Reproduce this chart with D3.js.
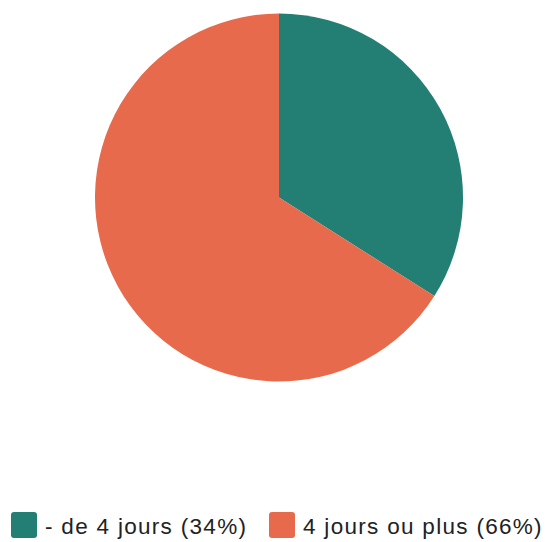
<!DOCTYPE html>
<html>
<head>
<meta charset="utf-8">
<script src="https://cdn.jsdelivr.net/npm/d3@7"></script>
<style>
  html, body { margin: 0; padding: 0; background: #fff; }
  svg { display: block; }
</style>
</head>
<body>
<svg id="chart" width="548" height="542"></svg>
<script>
const categories = ["- de 4 jours", "4 jours ou plus"];
const values = [34, 66];
const colors = ["#237e73", "#e86a4c"];

const svg = d3.select("#chart"),
      cx = 279, cy = 197.5, radius = 184;

const pie = d3.pie().sort(null).value(d => d.value);
const arc = d3.arc().innerRadius(0).outerRadius(radius);
const color = d3.scaleOrdinal().domain(categories).range(colors);

const data = categories.map((c, i) => ({ name: c, value: values[i] }));
const total = d3.sum(values);

svg.append("g")
   .attr("transform", "translate(" + cx + "," + cy + ")")
   .selectAll("path")
   .data(pie(data))
   .enter().append("path")
   .attr("d", arc)
   .attr("fill", d => color(d.data.name));

// legend
const legendY = 525;
const legendX = [11, 269];
const legend = svg.append("g")
   .attr("font-family", "Helvetica, Arial, 'Liberation Sans', sans-serif")
   .attr("font-size", 22.5)
   .attr("letter-spacing", 1.3)
   .selectAll("g")
   .data(data)
   .enter().append("g")
   .attr("transform", (d, i) => "translate(" + legendX[i] + "," + legendY + ")");

legend.append("rect")
   .attr("x", 0).attr("y", -13)
   .attr("width", 26).attr("height", 26)
   .attr("rx", 3)
   .attr("fill", d => color(d.name));

legend.append("text")
   .attr("x", 34)
   .attr("dy", "0.38em")
   .attr("fill", "#222")
   .text(d => d.name + " (" + Math.round(d.value / total * 100) + "%)");
</script>
</body>
</html>
